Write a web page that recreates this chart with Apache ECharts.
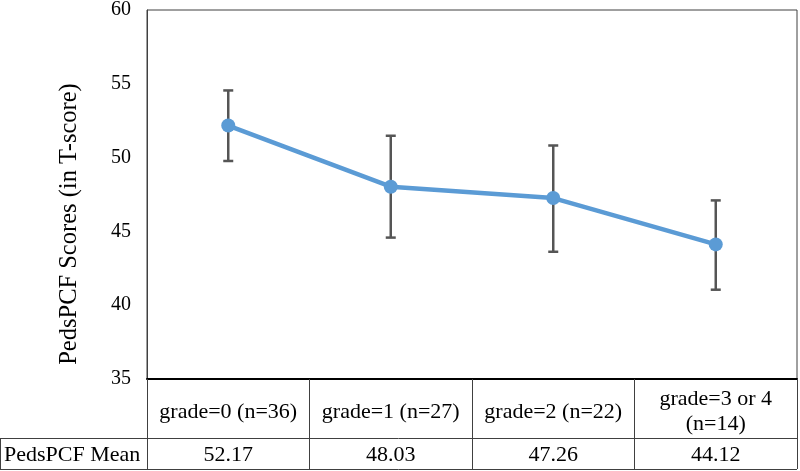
<!DOCTYPE html>
<html>
<head>
<meta charset="utf-8">
<script src="https://cdn.jsdelivr.net/npm/echarts@6/dist/echarts.min.js"></script>
<style>
html,body{margin:0;padding:0;background:#fff;}
#chart{width:800px;height:471px;}
</style>
</head>
<body>
<div id="chart"></div>
<script>
var categories = ['grade=0 (n=36)', 'grade=1 (n=27)', 'grade=2 (n=22)', 'grade=3 or 4\n(n=14)'];
var means = [52.17, 48.03, 47.26, 44.12];
var errLow = [49.77, 44.58, 43.62, 41.05];
var errHigh = [54.55, 51.48, 50.82, 47.1];
var yTicks = {min: 35, max: 60, interval: 5};
var yTitle = 'PedsPCF Scores (in T-score)';
var rowTitle = 'PedsPCF Mean';

var FONT = '"Liberation Serif", "Times New Roman", serif';
var chart = echarts.init(document.getElementById('chart'), null, {renderer: 'canvas'});

var errData = categories.map(function (c, i) { return [i, errLow[i], errHigh[i]]; });

var option = {
  animation: false,
  backgroundColor: '#fff',
  grid: {left: 147, right: 3, top: 7, bottom: 92, show: true, borderColor: '#404040', borderWidth: 1, backgroundColor: 'transparent'},
  xAxis: [{
    type: 'category',
    data: categories,
    boundaryGap: true,
    axisLine: {show: true, lineStyle: {color: '#000', width: 2}},
    axisTick: {show: true, length: 90, lineStyle: {color: '#404040', width: 1}},
    axisLabel: {show: true, margin: 33, verticalAlign: 'middle', color: '#000', fontFamily: FONT, fontSize: 22, lineHeight: 25, interval: 0},
    splitLine: {show: false}
  }, {
    type: 'category',
    position: 'bottom',
    data: means.map(function (m) { return m.toFixed(2); }),
    boundaryGap: true,
    axisLine: {show: false},
    axisTick: {show: false},
    axisLabel: {show: true, margin: 76, verticalAlign: 'middle', color: '#000', fontFamily: FONT, fontSize: 22, interval: 0},
    splitLine: {show: false}
  }],
  yAxis: {
    type: 'value',
    min: yTicks.min, max: yTicks.max, interval: yTicks.interval,
    axisLine: {show: true, lineStyle: {color: '#404040', width: 1}},
    axisTick: {show: false},
    splitLine: {show: false},
    axisLabel: {color: '#000', fontFamily: FONT, fontSize: 20, margin: 16}
  },
  graphic: [
    {type: 'text', x: 70, y: 224, rotation: Math.PI / 2,
      style: {text: yTitle, fill: '#000', font: '24.5px ' + FONT, textAlign: 'center', textVerticalAlign: 'middle'}},
    {type: 'text', x: 4, y: 455,
      style: {text: rowTitle, fill: '#000', font: '22px ' + FONT, textAlign: 'left', textVerticalAlign: 'middle'}},
    {type: 'line', shape: {x1: 0, y1: 438.5, x2: 797, y2: 438.5}, style: {stroke: '#404040', lineWidth: 1}},
    {type: 'line', shape: {x1: 0.5, y1: 438.5, x2: 0.5, y2: 469.5}, style: {stroke: '#404040', lineWidth: 1}},
    {type: 'line', shape: {x1: 0, y1: 469.5, x2: 797, y2: 469.5}, style: {stroke: '#404040', lineWidth: 1}}
  ],
  series: [{
    type: 'custom',
    z: 2,
    data: errData,
    encode: {x: 0, y: [1, 2]},
    renderItem: function (params, api) {
      var lo = api.coord([api.value(0), api.value(1)]);
      var hi = api.coord([api.value(0), api.value(2)]);
      var w = 5;
      var st = {stroke: '#555555', lineWidth: 2.5};
      return {type: 'group', children: [
        {type: 'line', shape: {x1: hi[0], y1: hi[1], x2: lo[0], y2: lo[1]}, style: st},
        {type: 'line', shape: {x1: hi[0] - w, y1: hi[1], x2: hi[0] + w, y2: hi[1]}, style: st},
        {type: 'line', shape: {x1: lo[0] - w, y1: lo[1], x2: lo[0] + w, y2: lo[1]}, style: st}
      ]};
    }
  }, {
    type: 'line',
    z: 3,
    data: means,
    symbol: 'circle',
    symbolSize: 14,
    lineStyle: {color: '#5B9BD5', width: 4.5},
    itemStyle: {color: '#5B9BD5'},
    label: {show: false}
  }]
};
chart.setOption(option);
</script>
</body>
</html>
